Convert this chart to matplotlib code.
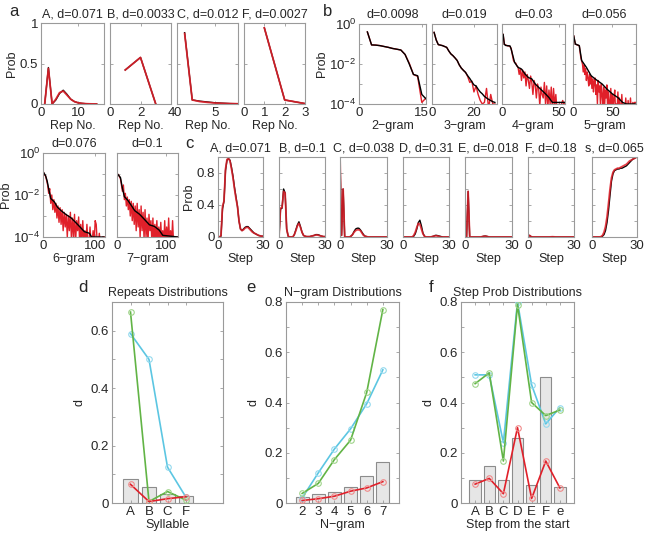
import numpy as np
import matplotlib
matplotlib.use("Agg")
import matplotlib.pyplot as plt

plt.rcParams['font.family'] = ['Liberation Sans', 'DejaVu Sans']
plt.rcParams['mathtext.fontset'] = 'custom'
plt.rcParams['mathtext.rm'] = 'Liberation Sans'
plt.rcParams['mathtext.it'] = 'Liberation Sans:italic'

### Data ###
# panel a: repeat number distributions (data = black, model = red)
rep_titles = ['A, d=0.071', 'B, d=0.0033', 'C, d=0.012', 'F, d=0.0027']
rep_x = [[1, 2, 3, 4, 5, 6, 7, 8, 9, 10, 11, 12, 13, 14, 15],
         [1, 2, 3],
         [1, 2, 3, 4, 5, 6, 7, 8],
         [1, 2, 3]]
rep_black = [[0, 0.45, 0, 0.05, 0.13, 0.17, 0.12, 0.06, 0.03, 0.015, 0.008, 0.004, 0.002, 0.001, 0.0005],
             [0.42, 0.575, 0],
             [0.88, 0.05, 0.035, 0.025, 0.015, 0.01, 0.005, 0.003],
             [0.94, 0.05, 0.005]]
rep_red = [[0, 0.44, 0, 0.06, 0.14, 0.16, 0.11, 0.06, 0.03, 0.015, 0.008, 0.004, 0.002, 0.001, 0.0005],
           [0.42, 0.575, 0],
           [0.87, 0.05, 0.03, 0.02, 0.012, 0.008, 0.005, 0.003],
           [0.94, 0.05, 0.005]]
rep_xlim = [17, 4, 8, 3]
rep_xticks = [[0, 10], [0, 2, 4], [0, 5], [0, 1, 2, 3]]

# panel b: n-gram probability distributions (log scale)
ng_titles = ['d=0.0098', 'd=0.019', 'd=0.03', 'd=0.056', 'd=0.076', 'd=0.1']
ng_labels = ['2\u2212gram', '3\u2212gram', '4\u2212gram', '5\u2212gram', '6\u2212gram', '7\u2212gram']
ng_xlim = [16, 31, 55, 80, 120, 124]
ng_xticks = [[0, 15], [0, 20], [0, 50], [0, 50], [0, 100], [0, 100]]

g2_black_x = [2, 3, 4, 5, 6, 7, 8, 9, 10, 11, 12, 13, 14, 15, 16]
g2_black = [0.4, 0.09, 0.088, 0.083, 0.075, 0.068, 0.06, 0.055, 0.05, 0.03, 0.01, 0.003, 0.0026, 0.0003, 0.00018]
g2_red = [0.4, 0.09, 0.088, 0.083, 0.075, 0.068, 0.06, 0.055, 0.05, 0.03, 0.011, 0.003, 0.0024, 0.00012, 0.0002]

g3_black_x = list(range(1, 31))
g3_black = [0.38, 0.16, 0.093, 0.088, 0.083, 0.075, 0.068, 0.045, 0.032, 0.026, 0.02, 0.015, 0.009, 0.0062, 0.0048,
            0.0038, 0.0026, 0.0019, 0.0013, 0.0009, 0.0008, 0.00055, 0.0004, 0.00032, 0.00024, 0.0002, 0.00017,
            0.00015, 0.00013, 0.00012]
g3_red = [0.38, 0.16, 0.093, 0.088, 0.083, 0.075, 0.068, 0.045, 0.032, 0.026, 0.02, 0.015, 0.009, 0.0062, 0.0048,
          0.0038, 0.0024, 0.0012, 0.0014, 0.0004, 0.0008, 0.0003, 0.00015, 0.0001, 0.00012, 0.0006, 0.00006,
          0.0003, 0.0001, 0.0001]

g4_black_x = [1, 2, 3, 7, 8, 11, 14, 17, 20, 23, 26, 29, 32, 35, 38, 41, 44, 47, 52, 55]
g4_black = [0.3, 0.1, 0.085, 0.08, 0.056, 0.012, 0.0068, 0.0056, 0.0032, 0.0021, 0.0018, 0.001, 0.00068,
            0.00047, 0.00032, 0.00021, 0.00012, 0.00012, 0.00012, 0.00012]
g4_red = [0.3, 0.1, 0.09, 0.085, 0.08, 0.08, 0.075, 0.06, 0.03, 0.015, 0.012, 0.011, 0.008, 0.007, 0.003,
          0.006, 0.0015, 0.005, 0.002, 0.004, 0.0008, 0.003, 0.0015, 0.0006, 0.0025, 0.0012, 0.0003, 0.0015,
          0.0009, 0.0002, 0.001, 0.0006, 0.00008, 0.0007, 0.0003, 0.0002, 0.0012, 0.0001, 0.0008, 0.00006,
          0.0005, 0.0001, 0.0007, 0.00005, 0.0006, 0.00008, 0.0003, 0.00005, 0.00005, 0.0001, 0.00006, 0.0001,
          0.00015, 0.0001, 0.00012]

g5_black_x = [1, 3, 8, 11, 17, 23, 28, 37, 43, 50, 57, 63, 68, 80]
g5_black = [0.25, 0.1, 0.083, 0.015, 0.0068, 0.0026, 0.0018, 0.001, 0.00056, 0.00032, 0.00021, 0.00012,
            0.0001, 0.0001]
g5_red = [0.25, 0.15, 0.1, 0.095, 0.09, 0.088, 0.085, 0.08, 0.04, 0.02, 0.014, 0.01, 0.004, 0.009, 0.003,
          0.006, 0.0015, 0.004, 0.002, 0.0008, 0.003, 0.001, 0.0025, 0.0006, 0.0018, 0.0004, 0.0012, 0.002,
          0.0003, 0.0009, 0.0001, 0.0015, 0.0004, 0.0008, 0.00006, 0.001, 0.0003, 0.0001, 0.0007, 0.00005,
          0.0005, 0.0002, 0.0009, 0.00005, 0.0004, 0.0001, 0.00005, 0.0006, 0.00005, 0.0003, 0.00005, 0.0002,
          0.0005, 0.00005, 0.0001, 0.00005, 0.0004, 0.00005, 0.0002, 0.00005, 0.00005, 0.0003, 0.00005, 0.0001,
          0.00005, 0.00005, 0.0002, 0.00005, 0.00005, 0.00015, 0.00005, 0.00005, 0.0002, 0.00005, 0.00005,
          0.00012, 0.00005, 0.00012, 0.00012, 0.00012]

g6_black_x = [1, 5, 8, 12, 15, 22, 28, 35, 44, 54, 64, 74, 80, 90, 94, 118]
g6_black = [0.12, 0.083, 0.047, 0.015, 0.0068, 0.0047, 0.0026, 0.0018, 0.0012, 0.00083, 0.00047, 0.00026,
            0.00018, 0.00015, 0.0001, 0.0001]
g6_red = [0.12, 0.09, 0.08, 0.05, 0.03, 0.012, 0.02, 0.004, 0.01, 0.002, 0.006, 0.0015, 0.004, 0.0008, 0.003,
          0.0005, 0.0025, 0.0004, 0.002, 0.0002, 0.0015, 0.0003, 0.0012, 0.0001, 0.001, 0.0002, 0.0015, 0.00008,
          0.0008, 0.0001, 0.0012, 0.00005, 0.0006, 0.0002, 0.0009, 0.00005, 0.0004, 0.00005, 0.0006, 0.00005,
          0.0002, 0.00005, 0.0004, 0.00005, 0.00005, 0.0003, 0.00005, 0.00005, 0.0002, 0.00005, 0.0006, 0.0004,
          0.00005, 0.00005, 0.00015, 0.00005, 0.00005, 0.0001, 0.0001, 0.0001]

g7_black_x = [1, 7, 11, 15, 22, 29, 36, 46, 56, 66, 76, 86, 93, 124]
g7_black = [0.1, 0.068, 0.021, 0.0083, 0.0056, 0.0032, 0.0018, 0.0012, 0.00068, 0.00038, 0.00032, 0.00021,
            0.00012, 0.0001]
g7_red = [0.1, 0.09, 0.075, 0.06, 0.03, 0.015, 0.03, 0.006, 0.012, 0.003, 0.008, 0.002, 0.006, 0.001, 0.005,
          0.0006, 0.004, 0.0004, 0.003, 0.0002, 0.004, 0.0003, 0.002, 0.0001, 0.003, 0.0002, 0.0015, 0.00008,
          0.002, 0.0001, 0.0008, 0.00005, 0.0012, 0.0002, 0.0006, 0.00005, 0.0008, 0.00005, 0.0004, 0.00005,
          0.0006, 0.00005, 0.0003, 0.00005, 0.0005, 0.00005, 0.0002, 0.00005, 0.0006, 0.00005, 0.0003, 0.00005,
          0.0008, 0.00005, 0.0002, 0.00005, 0.0006, 0.00005, 0.0001, 0.00005, 0.0001, 0.0001]

# red series of the 6- and 7-gram panels are read every second rank
ng_black_x = [g2_black_x, g3_black_x, g4_black_x, g5_black_x, g6_black_x, g7_black_x]
ng_black = [g2_black, g3_black, g4_black, g5_black, g6_black, g7_black]
ng_red_x = [g2_black_x, g3_black_x, list(range(1, 56)), list(range(1, 81)),
            list(range(1, 120, 2)), list(range(1, 124, 2))]
ng_red = [g2_red, g3_red, g4_red, g5_red, g6_red, g7_red]

# panel c: probability of each syllable at each step from the start
step_titles = ['A, d=0.071', 'B, d=0.1', 'C, d=0.038', 'D, d=0.31', 'E, d=0.018', 'F, d=0.18', 's, d=0.065']
steps = list(range(0, 31))
step_black = [
    [0, 0, 0.01, 0.35, 0.45, 0.83, 0.96, 0.98, 0.96, 0.87, 0.76, 0.62, 0.5, 0.38, 0.2, 0.1, 0.08, 0.1, 0.12,
     0.13, 0.13, 0.11, 0.09, 0.07, 0.05, 0.04, 0.03, 0.02, 0.015, 0.01, 0.01],
    [0, 0.35, 0.36, 0.6, 0.55, 0.1, 0.01, 0, 0, 0, 0.03, 0.09, 0.15, 0.19, 0.13, 0.06, 0.02, 0.01, 0.005,
     0.005, 0.005, 0.01, 0.015, 0.02, 0.03, 0.03, 0.025, 0.015, 0.01, 0.005, 0.005],
    [1.0, 0.02, 0.6, 0, 0, 0, 0, 0.01, 0.03, 0.07, 0.1, 0.11, 0.11, 0.09, 0.06, 0.03, 0.01, 0.005, 0, 0, 0,
     0, 0, 0, 0, 0, 0, 0, 0, 0, 0],
    [0, 0, 0, 0, 0, 0, 0, 0.01, 0.04, 0.1, 0.18, 0.21, 0.14, 0.05, 0.01, 0, 0, 0, 0, 0.005, 0.01, 0.02,
     0.02, 0.015, 0.01, 0.005, 0, 0, 0, 0, 0],
    [0, 0, 0.57, 0, 0, 0, 0, 0, 0, 0, 0, 0.005, 0.01, 0.012, 0.008, 0.003, 0, 0, 0, 0, 0, 0, 0, 0, 0, 0, 0,
     0, 0, 0, 0],
    [0, 0.02, 0.005, 0, 0, 0, 0, 0, 0, 0, 0, 0, 0, 0, 0, 0.002, 0.003, 0.002, 0, 0, 0, 0, 0, 0, 0, 0, 0, 0,
     0, 0, 0],
    [0, 0, 0, 0, 0, 0, 0, 0.01, 0.03, 0.08, 0.18, 0.33, 0.52, 0.7, 0.79, 0.83, 0.84, 0.85, 0.85, 0.86, 0.86,
     0.87, 0.88, 0.89, 0.91, 0.93, 0.95, 0.97, 0.98, 0.99, 1.01],
]
step_red = [
    [0, 0, 0.02, 0.38, 0.45, 0.85, 0.97, 0.98, 0.95, 0.85, 0.74, 0.6, 0.48, 0.38, 0.2, 0.1, 0.08, 0.09, 0.11,
     0.12, 0.12, 0.1, 0.08, 0.06, 0.05, 0.04, 0.03, 0.02, 0.015, 0.01, 0.01],
    [0, 0.36, 0.37, 0.57, 0.55, 0.1, 0.01, 0, 0, 0, 0.03, 0.08, 0.14, 0.17, 0.12, 0.06, 0.02, 0.01, 0.005,
     0.005, 0.005, 0.01, 0.015, 0.02, 0.025, 0.025, 0.02, 0.015, 0.01, 0.005, 0.005],
    [1.02, 0.02, 0.6, 0, 0, 0, 0, 0.01, 0.03, 0.06, 0.08, 0.09, 0.09, 0.08, 0.05, 0.02, 0.01, 0.005, 0, 0,
     0, 0, 0, 0, 0, 0, 0, 0, 0, 0, 0],
    [0, 0, 0, 0, 0, 0, 0, 0.02, 0.06, 0.12, 0.17, 0.16, 0.1, 0.04, 0.01, 0, 0, 0, 0, 0.005, 0.01, 0.015,
     0.015, 0.01, 0.005, 0, 0, 0, 0, 0, 0],
    [0, 0, 0.57, 0, 0, 0, 0, 0, 0, 0, 0, 0.005, 0.008, 0.01, 0.006, 0.002, 0, 0, 0, 0, 0, 0, 0, 0, 0, 0, 0,
     0, 0, 0, 0],
    [0, 0.02, 0.005, 0, 0, 0, 0, 0, 0, 0, 0, 0, 0, 0, 0, 0.002, 0.003, 0.002, 0, 0, 0, 0, 0, 0, 0, 0, 0, 0,
     0, 0, 0],
    [0, 0, 0, 0, 0, 0, 0.005, 0.02, 0.06, 0.13, 0.25, 0.42, 0.6, 0.74, 0.81, 0.84, 0.85, 0.86, 0.86, 0.87,
     0.88, 0.89, 0.9, 0.91, 0.93, 0.95, 0.96, 0.97, 0.98, 0.99, 1.0],
]

# panels d-f: summary of d values (bars) and three model variants (lines)
rep_syll = ['A', 'B', 'C', 'F']
rep_bar = [0.083, 0.055, 0.03, 0.025]
rep_cyan = [0.59, 0.50, 0.125, 0.02]
rep_green = [0.665, 0.005, 0.04, 0.01]
rep_redline = [0.065, 0.005, 0.015, 0.022]

ngram_n = [2, 3, 4, 5, 6, 7]
ngram_bar = [0.025, 0.035, 0.045, 0.063, 0.107, 0.163]
ngram_cyan = [0.02, 0.12, 0.215, 0.295, 0.395, 0.53]
ngram_green = [0.038, 0.078, 0.173, 0.25, 0.44, 0.77]
ngram_redline = [0.01, 0.017, 0.027, 0.047, 0.06, 0.085]

step_syll = ['A', 'B', 'C', 'D', 'E', 'F', 'e']
step_bar = [0.09, 0.147, 0.093, 0.258, 0.07, 0.503, 0.065]
step_cyan = [0.51, 0.51, 0.24, 0.80, 0.47, 0.315, 0.38]
step_green = [0.475, 0.518, 0.167, 0.79, 0.40, 0.348, 0.37]
step_redline = [0.075, 0.098, 0.037, 0.30, 0.018, 0.167, 0.06]

### Style ###
W, H = 649, 537
GRAY = '#9a9a9a'
TXT = '#262626'
RED = '#e0202a'
CYAN = '#5cc6e2'
GREEN = '#62b446'
FS = 9        # titles and axis labels
TFS = 9.5     # tick labels

fig = plt.figure(figsize=(W / 100, H / 100), dpi=100)


def px_axes(x0, y0, x1, y1):
    return fig.add_axes([x0 / W, 1 - y1 / H, (x1 - x0) / W, (y1 - y0) / H])


def style(ax):
    for s in ax.spines.values():
        s.set_color(GRAY)
        s.set_linewidth(0.8)
    ax.tick_params(which='both', direction='in', length=2.5, width=0.6, color=GRAY,
                   labelcolor=TXT, labelsize=TFS, pad=2, top=True, right=True)


# --- a ---
a_pos = [(41, 104), (110, 171), (177, 238), (244, 305)]
for i, (x0, x1) in enumerate(a_pos):
    ax = px_axes(x0, 23, x1, 104)
    style(ax)
    ax.plot(rep_x[i], rep_black[i], color='k', lw=1.0)
    ax.plot(rep_x[i], rep_red[i], color=RED, lw=1.3, alpha=0.9)
    ax.set_xlim(0, rep_xlim[i])
    ax.set_ylim(0, 1)
    ax.set_xticks(rep_xticks[i])
    ax.set_yticks([0, 0.5, 1])
    if i == 0:
        ax.set_yticklabels(['0', '0.5', '1'])
        ax.set_ylabel('Prob', fontsize=FS, color=TXT, labelpad=1)
    else:
        ax.set_yticklabels([])
    ax.set_title(rep_titles[i], fontsize=FS, color=TXT, pad=4)
    ax.set_xlabel('Rep No.', fontsize=FS, color=TXT, labelpad=1)

# --- b ---
b_pos = [(359, 24, 426, 104), (432, 24, 497, 104), (502, 24, 565, 104), (573, 24, 636, 104),
         (43, 153, 105, 237), (117, 153, 178, 237)]
for i, (x0, y0, x1, y1) in enumerate(b_pos):
    ax = px_axes(x0, y0, x1, y1)
    style(ax)
    ax.set_yscale('log')
    ax.plot(ng_red_x[i], ng_red[i], color=RED, lw=1.0)
    ax.plot(ng_black_x[i], ng_black[i], color='k', lw=1.0)
    ax.set_xlim(0, ng_xlim[i])
    ax.set_ylim(1e-4, 1)
    ax.set_xticks(ng_xticks[i])
    ax.set_yticks([1e-4, 1e-3, 1e-2, 1e-1, 1])
    ax.minorticks_off()
    if i in (0, 4):
        ax.set_yticklabels([r'$\mathregular{10^{-4}}$', '', r'$\mathregular{10^{-2}}$', '',
                            r'$\mathregular{10^{0}}$'])
        ax.set_ylabel('Prob', fontsize=FS, color=TXT, labelpad=1)
    else:
        ax.set_yticklabels([])
    ax.set_title(ng_titles[i], fontsize=FS, color=TXT, pad=4)
    ax.set_xlabel(ng_labels[i], fontsize=FS, color=TXT, labelpad=1)

# --- c ---
c_pos = [(218, 263), (279, 325), (340, 387), (403, 449), (465, 512), (528, 574), (592, 637)]
for i, (x0, x1) in enumerate(c_pos):
    ax = px_axes(x0, 157, x1, 237)
    style(ax)
    ax.plot(steps, step_black[i], color='k', lw=1.0)
    ax.plot(steps, step_red[i], color=RED, lw=1.3, alpha=0.85)
    ax.set_xlim(0, 30)
    ax.set_ylim(0, 1)
    ax.set_xticks([0, 30])
    ax.set_yticks([0, 0.2, 0.4, 0.6, 0.8, 1.0])
    if i == 0:
        ax.set_yticklabels(['0', '', '0.4', '', '0.8', ''])
        ax.set_ylabel('Prob', fontsize=FS, color=TXT, labelpad=1)
    else:
        ax.set_yticklabels([])
    ax.set_title(step_titles[i], fontsize=FS, color=TXT, pad=4)
    ax.set_xlabel('Step', fontsize=FS, color=TXT, labelpad=1)


# --- d, e, f ---
def summary(ax, x, bars, cyan, green, red, xlim, ylim, xlabels, title, xlabel):
    style(ax)
    ax.bar(x, bars, width=0.8, color='#e6e6e6', edgecolor='#8c8c8c', linewidth=0.8, zorder=1)
    for vals, c, mc in [(cyan, CYAN, '#93d9ee'), (green, GREEN, '#9fd48a'), (red, RED, '#f08a8a')]:
        ax.plot(x, vals, color=c, lw=1.2, marker='o', ms=4, mfc='none', mec=mc, mew=0.8, zorder=3)
    ax.set_xlim(*xlim)
    ax.set_ylim(*ylim)
    ax.set_xticks(x)
    ax.set_xticklabels(xlabels)
    yt = np.arange(0, ylim[1] + 1e-9, 0.1)
    ax.set_yticks(yt)
    ax.set_yticklabels(['0' if k == 0 else ('%.1f' % v if k % 2 == 0 else '') for k, v in enumerate(yt)])
    ax.set_ylabel('d', fontsize=FS, color=TXT, labelpad=4)
    ax.set_xlabel(xlabel, fontsize=FS, color=TXT, labelpad=1)
    ax.set_title(title, fontsize=FS, color=TXT, pad=4)


ax_d = px_axes(112, 302, 223, 503)
summary(ax_d, [1, 2, 3, 4], rep_bar, rep_cyan, rep_green, rep_redline, (0, 6), (0, 0.7),
        rep_syll, 'Repeats Distributions', 'Syllable')
ax_e = px_axes(286, 302, 399, 503)
summary(ax_e, ngram_n, ngram_bar, ngram_cyan, ngram_green, ngram_redline, (1, 8), (0, 0.8),
        [str(n) for n in ngram_n], 'N\u2212gram Distributions', 'N\u2212gram')
ax_f = px_axes(461, 302, 574, 503)
summary(ax_f, [1, 2, 3, 4, 5, 6, 7], step_bar, step_cyan, step_green, step_redline, (0, 8), (0, 0.8),
        step_syll, 'Step Prob Distributions', 'Step from the start')

# panel letters
for lab, x, y in [('a', 14, 11), ('b', 328, 11), ('c', 189, 143), ('d', 83, 288), ('e', 251, 288), ('f', 431, 288)]:
    fig.text(x / W, 1 - y / H, lab, fontsize=12, color=TXT, ha='center', va='center')

fig.savefig('out.png', dpi=100)
